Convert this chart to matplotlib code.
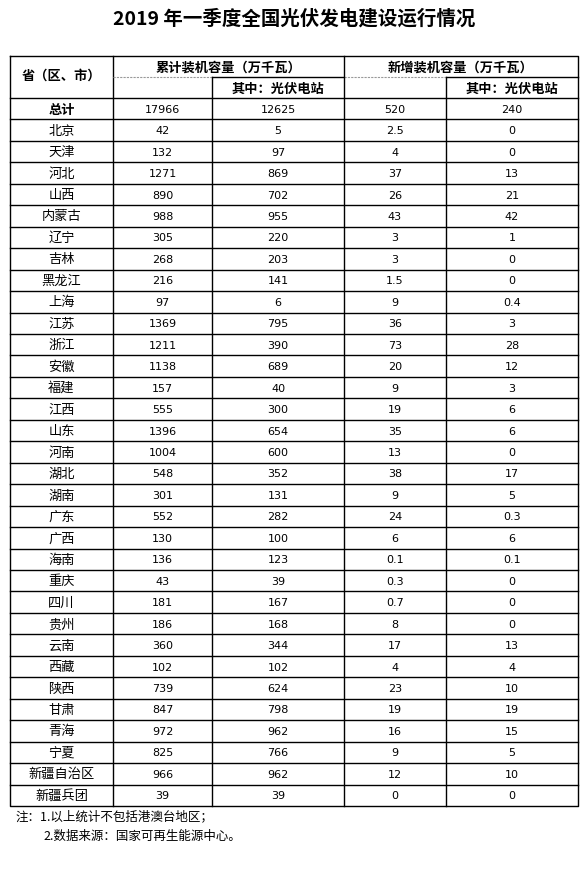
import matplotlib
matplotlib.use("Agg")
import matplotlib.pyplot as plt

plt.rcParams['font.family'] = ['Noto Sans CJK SC', 'DejaVu Sans']

title = "2019 年一季度全国光伏发电建设运行情况"
provinces = ["北京","天津","河北","山西","内蒙古","辽宁","吉林","黑龙江","上海","江苏","浙江","安徽","福建","江西","山东","河南","湖北","湖南","广东","广西","海南","重庆","四川","贵州","云南","西藏","陕西","甘肃","青海","宁夏","新疆自治区","新疆兵团"]
cum_total = ["42","132","1271","890","988","305","268","216","97","1369","1211","1138","157","555","1396","1004","548","301","552","130","136","43","181","186","360","102","739","847","972","825","966","39"]
cum_pv = ["5","97","869","702","955","220","203","141","6","795","390","689","40","300","654","600","352","131","282","100","123","39","167","168","344","102","624","798","962","766","962","39"]
new_total = ["2.5","4","37","26","43","3","3","1.5","9","36","73","20","9","19","35","13","38","9","24","6","0.1","0.3","0.7","8","17","4","23","19","16","9","12","0"]
new_pv = ["0","0","13","21","42","1","0","0","0.4","3","28","12","3","6","6","0","17","5","0.3","6","0.1","0","0","0","13","4","10","19","15","5","10","0"]
total_row = ["总计","17966","12625","520","240"]
notes = ["注：1.以上统计不包括港澳台地区；", "2.数据来源：国家可再生能源中心。"]

W, H = 588, 870
fig = plt.figure(figsize=(W/100, H/100), dpi=100)
ax = fig.add_axes([0, 0, 1, 1])
ax.set_xlim(0, W); ax.set_ylim(H, 0); ax.axis('off')

rows = [total_row] + [[p, a, b, c, d] for p, a, b, c, d in zip(provinces, cum_total, cum_pv, new_total, new_pv)]

cols = [10, 113, 212, 344, 446, 578]
top, hmid, hbot = 57, 78, 99
bottom = 807
rh = (bottom - hbot) / len(rows)

ax.text(294, 19, title, ha='center', va='center', fontsize=14, fontweight='bold')

lw = 1.0
ax.plot([cols[0], cols[-1], cols[-1], cols[0], cols[0]], [top, top, bottom, bottom, top], color='black', lw=lw)
ax.plot([cols[1], cols[1]], [top, bottom], color='black', lw=lw)
ax.plot([cols[3], cols[3]], [top, bottom], color='black', lw=lw)
ax.plot([cols[2], cols[2]], [hmid, bottom], color='black', lw=lw)
ax.plot([cols[4], cols[4]], [hmid, bottom], color='black', lw=lw)
ax.plot([cols[1], cols[2]], [hmid, hmid], color='#999999', lw=0.8, ls=(0, (2, 1)))
ax.plot([cols[3], cols[4]], [hmid, hmid], color='#999999', lw=0.8, ls=(0, (2, 1)))
ax.plot([cols[2], cols[3]], [hmid, hmid], color='black', lw=lw)
ax.plot([cols[4], cols[5]], [hmid, hmid], color='black', lw=lw)
ax.plot([cols[0], cols[5]], [hbot, hbot], color='black', lw=lw)

hfs = 9.5
ax.text((cols[0]+cols[1])/2, (top+hbot)/2 - 2, "省（区、市）", ha='center', va='center', fontsize=hfs, fontweight='bold')
ax.text((cols[1]+cols[3])/2, (top+hmid)/2, "累计装机容量（万千瓦）", ha='center', va='center', fontsize=hfs, fontweight='bold')
ax.text((cols[3]+cols[5])/2, (top+hmid)/2, "新增装机容量（万千瓦）", ha='center', va='center', fontsize=hfs, fontweight='bold')
ax.text((cols[2]+cols[3])/2, (hmid+hbot)/2, "其中：光伏电站", ha='center', va='center', fontsize=hfs, fontweight='bold')
ax.text((cols[4]+cols[5])/2, (hmid+hbot)/2, "其中：光伏电站", ha='center', va='center', fontsize=hfs, fontweight='bold')

for i, row in enumerate(rows):
    y0 = hbot + i * rh
    yc = y0 + rh / 2
    if i > 0:
        ax.plot([cols[0], cols[5]], [y0, y0], color='black', lw=lw)
    for j, val in enumerate(row):
        xc = (cols[j] + cols[j+1]) / 2
        if j == 0:
            ax.text(xc, yc, val, ha='center', va='center', fontsize=9.5,
                    fontweight='bold' if i == 0 else 'normal')
        else:
            ax.text(xc, yc, val, ha='center', va='center', fontsize=8, family=['DejaVu Sans'])

ax.text(16, 817, notes[0], ha='left', va='center', fontsize=9)
ax.text(43, 836, notes[1], ha='left', va='center', fontsize=9)

fig.savefig("out.png", dpi=100)
